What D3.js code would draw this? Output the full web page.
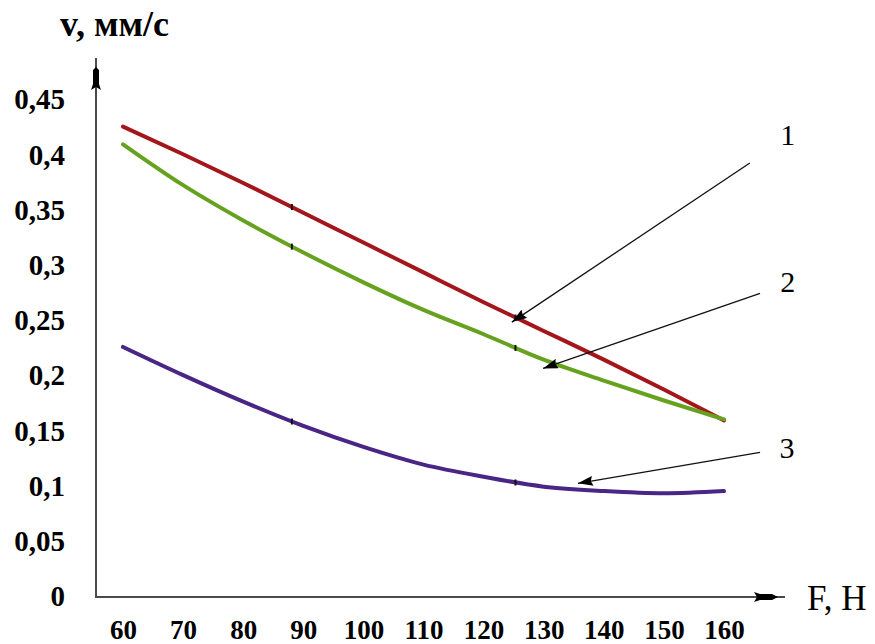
<!DOCTYPE html>
<html>
<head>
<meta charset="utf-8">
<script src="https://cdn.jsdelivr.net/npm/d3@7"></script>
<style>
  body { margin: 0; background: #fff; }
  text { font-family: "Liberation Serif", "Times New Roman", serif; fill: #000; }
</style>
</head>
<body>
<div id="chart"></div>
<script>
// data
const forces = [60, 70, 80, 90, 100, 110, 120, 130, 140, 150, 160];
const speed1 = [0.425, 0.400, 0.374, 0.347, 0.320, 0.293, 0.266, 0.240, 0.214, 0.187, 0.159];
const speed2 = [0.409, 0.372, 0.340, 0.311, 0.284, 0.259, 0.237, 0.214, 0.195, 0.177, 0.160];
const speed3 = [0.2255, 0.200, 0.176, 0.154, 0.135, 0.119, 0.108, 0.099, 0.095, 0.093, 0.095];
const xTicks = [60, 70, 80, 90, 100, 110, 120, 130, 140, 150, 160];
const yTicks = [0, 0.05, 0.1, 0.15, 0.2, 0.25, 0.3, 0.35, 0.4, 0.45];
const markF = [88.1, 125.3];
// annotation arrows: label, label position, arrow start, arrow tip (data units)
const labels = ["1", "2", "3"];
const labelPos = [[170.6, 0.408], [170.6, 0.275], [170.5, 0.125]];
const arrowFrom = [[164.3, 0.392], [166.0, 0.274], [166.0, 0.130]];
const arrowTo = [[124.7, 0.248], [129.9, 0.206], [135.7, 0.102]];

const series = [
  {values: speed1, color: "#a3161c"},
  {values: speed2, color: "#66a21f"},
  {values: speed3, color: "#4a2585"}
];

const width = 875, height = 644;
const svg = d3.select("#chart").append("svg")
    .attr("width", width)
    .attr("height", height);

const x = d3.scaleLinear().domain([60, 160]).range([123, 724]);
const y = d3.scaleLinear().domain([0, 0.45]).range([596, 99]);
const axisX0 = 96, axisY0 = 597;

// arrow marker
svg.append("defs").append("marker")
    .attr("id", "arr")
    .attr("viewBox", "0 0 15 10")
    .attr("refX", 15).attr("refY", 5)
    .attr("markerWidth", 15).attr("markerHeight", 10)
    .attr("markerUnits", "userSpaceOnUse")
    .attr("orient", "auto")
  .append("path")
    .attr("d", "M0,0L15,5L0,10L2,5Z")
    .attr("fill", "#000");

// y axis labels
const yAxis = svg.append("g")
    .attr("transform", `translate(${axisX0},0)`)
    .call(d3.axisLeft(y)
      .tickValues(yTicks)
      .tickSize(0)
      .tickPadding(31)
      .tickFormat(d => String(d).replace(".", ","))
    );
yAxis.select(".domain").remove();
yAxis.selectAll("text")
    .attr("font-family", "Liberation Serif")
    .attr("font-size", 29)
    .attr("font-weight", "bold")
    .attr("dy", "0.34em");

// x axis labels
const xAxis = svg.append("g")
    .attr("transform", `translate(0,${axisY0})`)
    .call(d3.axisBottom(x)
      .tickValues(xTicks)
      .tickSize(0)
      .tickPadding(23)
    );
xAxis.select(".domain").remove();
xAxis.selectAll("text")
    .attr("font-family", "Liberation Serif")
    .attr("font-size", 27)
    .attr("font-weight", "bold");

// axis lines
svg.append("path")
    .attr("d", `M${axisX0},58V${axisY0}H785`)
    .attr("fill", "none")
    .attr("stroke", "#4a4a4a")
    .attr("stroke-width", 2);

// axis arrowheads
svg.append("path")
    .attr("d", `M${axisX0},67L${axisX0 + 3},70L${axisX0 + 3},84L${axisX0 + 5},90L${axisX0},87L${axisX0 - 5},90L${axisX0 - 3},84L${axisX0 - 3},70Z`)
    .attr("fill", "#000");
svg.append("path")
    .attr("d", `M778,${axisY0}L772,${axisY0 - 3}L760,${axisY0 - 3}L754,${axisY0 - 5}L757,${axisY0}L754,${axisY0 + 5}L760,${axisY0 + 3}L772,${axisY0 + 3}Z`)
    .attr("fill", "#000");

// axis titles
svg.append("text")
    .attr("x", 60).attr("y", 36)
    .attr("font-size", 36)
    .attr("font-weight", "bold")
    .text("v, мм/с");
svg.append("text")
    .attr("x", 807).attr("y", 610)
    .attr("font-size", 35)
    .text("F, Н");

// curves
const line = d3.line()
    .curve(d3.curveMonotoneX)
    .x((d, i) => x(forces[i]))
    .y(d => y(d));

series.forEach(s => {
  const path = svg.append("path")
      .datum(s.values)
      .attr("fill", "none")
      .attr("stroke", s.color)
      .attr("stroke-width", 4)
      .attr("stroke-linecap", "round")
      .attr("d", line);

  // small black marks sitting on each curve
  const node = path.node();
  const total = node.getTotalLength();
  markF.forEach(f => {
    const px = x(f);
    let lo = 0, hi = total;
    for (let k = 0; k < 30; k++) {
      const mid = (lo + hi) / 2;
      if (node.getPointAtLength(mid).x < px) lo = mid; else hi = mid;
    }
    const p = node.getPointAtLength(lo);
    svg.append("rect")
        .attr("x", p.x - 1).attr("y", p.y - 3)
        .attr("width", 2).attr("height", 6)
        .attr("fill", "#111");
  });
});

// annotation arrows and numbers
labels.forEach((lab, i) => {
  svg.append("line")
      .attr("x1", x(arrowFrom[i][0])).attr("y1", y(arrowFrom[i][1]))
      .attr("x2", x(arrowTo[i][0])).attr("y2", y(arrowTo[i][1]))
      .attr("stroke", "#111")
      .attr("stroke-width", 1.3)
      .attr("marker-end", "url(#arr)");
  svg.append("text")
      .attr("x", x(labelPos[i][0])).attr("y", y(labelPos[i][1]))
      .attr("text-anchor", "middle")
      .attr("font-size", 30)
      .text(lab);
});
</script>
</body>
</html>
